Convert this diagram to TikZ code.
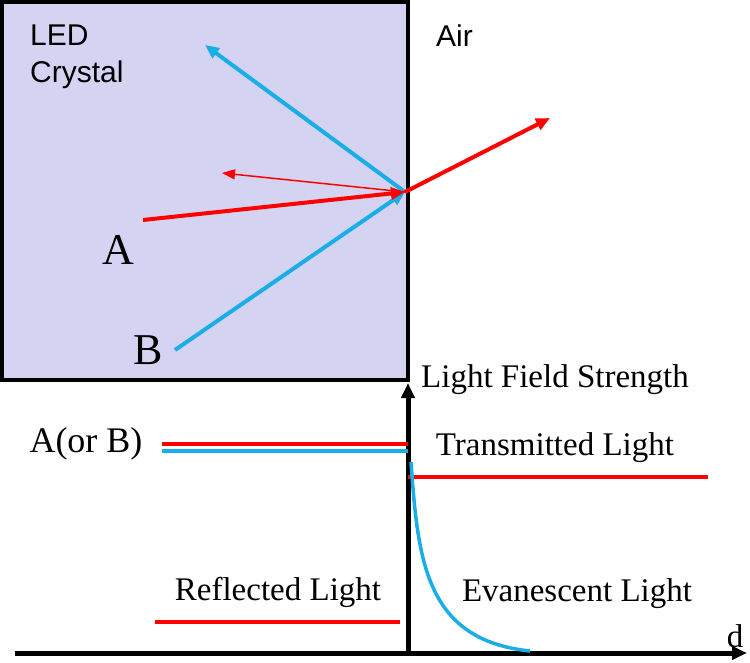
\documentclass[tikz,border=0pt]{standalone}
\usepackage{fontspec}
\setmainfont{Liberation Serif}
\setsansfont{Liberation Sans}
\usetikzlibrary{arrows.meta}
\definecolor{lav}{HTML}{D4D4F2}
\definecolor{sky}{HTML}{1AAEE8}
\begin{document}
\begin{tikzpicture}[x=1pt,y=-1pt,
  txt/.style={font=\fontsize{33}{36}\selectfont, inner sep=0pt},
  big/.style={font=\fontsize{44}{48}\selectfont, inner sep=0pt},
  sf/.style={font=\sffamily\fontsize{30}{37}\selectfont, inner sep=0pt, align=left},
  ray/.style={line width=4pt,-{Triangle[length=14pt,width=12pt]}},
  lvl/.style={line width=3.5pt}]
\useasboundingbox (0,0) rectangle (750,663);
\draw[fill=lav,line width=4pt] (2,2) rectangle (408,380);
\node[sf,anchor=north west] (led) at (30,25) {LED\\Crystal};
\node[sf,anchor=north west] (air) at (436,25) {Air};
\node[big] (A) at (118,250) {A};
\node[big] (B) at (148,350) {B};
\coordinate (P) at (405,192);
\coordinate (a0) at (143,220);
\coordinate (b0) at (175,350);
\coordinate (rb) at (205,45);
\coordinate (ta) at (550,118);
\coordinate (ra) at (222,173);
\draw[ray,sky] (b0) -- (P);
\draw[ray,sky] (P) -- (rb);
\draw[ray,red] (a0) -- (P);
\draw[ray,red] (P) -- (ta);
\draw[red,line width=1.5pt,-{Triangle[length=13pt,width=10pt]}] (P) -- (ra);
% axes
\coordinate (o) at (408,655);
\coordinate (ytop) at (408,383);
\coordinate (x0) at (15,653);
\coordinate (x1) at (747,653);
\draw[line width=5pt,-{Triangle[length=15pt,width=13pt]}] (o) -- (ytop);
\draw[line width=5pt,-{Triangle[length=15pt,width=13pt]}] (x0) -- (x1);
\node[txt] (d) at (735,636) {d};
\node[txt] (lfs) at (555,380) {Light Field Strength};
\node[txt,font=\fontsize{36}{40}\selectfont] (ab) at (86,444) {A(or B)};
\node[txt] (tl) at (555,448) {Transmitted Light};
\node[txt] (rl) at (278,592) {Reflected Light};
\node[txt] (el) at (577,594) {Evanescent Light};
\draw[lvl,red] (162,444) -- (408,444);
\draw[lvl,sky] (162,451) -- (408,451);
\draw[lvl,red] (408,477) -- (708,477);
\draw[lvl,red] (155,622) -- (400,622);
\draw[lvl,sky] (411,462) .. controls (418,560) and (425,640) .. (530,651);
\end{tikzpicture}
\end{document}
